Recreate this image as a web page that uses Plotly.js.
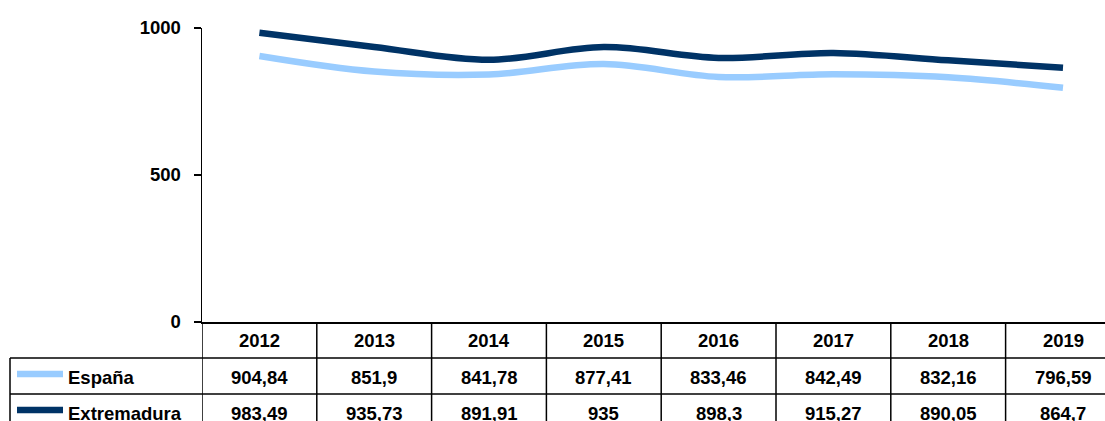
<!DOCTYPE html>
<html><head><meta charset="utf-8">
<script src="https://cdn.plot.ly/plotly-3.0.1.min.js"></script>
<style>html,body{margin:0;padding:0;background:#fff;overflow:hidden}#c{width:1105px;height:421px}</style>
</head><body><div id="c"></div>
<script>
const years = ['2012','2013','2014','2015','2016','2017','2018','2019'];
const espana = [904.84, 851.9, 841.78, 877.41, 833.46, 842.49, 832.16, 796.59];
const extremadura = [983.49, 935.73, 891.91, 935, 898.3, 915.27, 890.05, 864.7];
const seriesNames = ['España', 'Extremadura'];
const seriesColors = ['#99CCFF', '#003366'];
const yTicks = [0, 500, 1000];

const W = 1105, H = 421, L = 202, T = 28, B = 99;
const plotW = W - L, plotH = H - T - B;
const colW = 114.8;
const xIdx = years.map((_, i) => i);
const pY = px => (H - B - px) / plotH;       // pixel row -> paper y
const pX = px => (px - L) / plotW;           // pixel col -> paper x
const fmt = v => String(v).replace('.', ',');
const font = {family: 'Liberation Sans, Arial, sans-serif', size: 18.5, color: '#000', weight: 'bold'};

const traces = [espana, extremadura].map((vals, k) => ({
  x: xIdx, y: vals, type: 'scatter', mode: 'lines', name: seriesNames[k],
  line: {color: seriesColors[k], width: 6.5, shape: 'spline', smoothing: 1},
  hoverinfo: 'skip', cliponaxis: false
}));

const rowTop = [322, 358, 394, 430];
const shapes = [];
const lineStyle = {color: '#000', width: 1.5};
// column boundaries
for (let i = -1; i < years.length; i++) {
  shapes.push({type: 'line', xref: 'x', yref: 'paper', x0: i + 0.5, x1: i + 0.5,
    y0: pY(rowTop[0]), y1: pY(rowTop[3]), line: lineStyle});
}
// row lines
[358, 394].forEach(r => shapes.push({type: 'line', xref: 'paper', yref: 'paper',
  x0: pX(10), x1: 1.05, y0: pY(r), y1: pY(r), line: lineStyle}));
shapes.push({type: 'line', xref: 'paper', yref: 'paper', x0: pX(10), x1: pX(10),
  y0: pY(358), y1: pY(430), line: lineStyle});
// legend keys
seriesColors.forEach((c, k) => {
  const yc = pY((rowTop[k + 1] + rowTop[k + 2]) / 2 - 2);
  shapes.push({type: 'line', xref: 'paper', yref: 'paper', x0: pX(17), x1: pX(63),
    y0: yc, y1: yc, line: {color: c, width: 6.5}});
});

const annotations = [];
years.forEach((yr, i) => annotations.push({xref: 'x', yref: 'paper', x: i,
  y: pY(340), text: yr, showarrow: false, font, xanchor: 'center', yanchor: 'middle'}));
[espana, extremadura].forEach((vals, k) => {
  const yc = pY((rowTop[k + 1] + rowTop[k + 2]) / 2 + 1);
  vals.forEach((v, i) => annotations.push({xref: 'x', yref: 'paper', x: i, y: yc,
    text: fmt(v), showarrow: false, font, xanchor: 'center', yanchor: 'middle'}));
  annotations.push({xref: 'paper', yref: 'paper', x: pX(66), y: yc, text: seriesNames[k],
    showarrow: false, font, xanchor: 'left', yanchor: 'middle'});
});

const layout = {
  width: W, height: H, margin: {l: L, r: 0, t: T, b: B, pad: 0},
  paper_bgcolor: '#fff', plot_bgcolor: '#fff', showlegend: false,
  xaxis: {range: [-0.5, -0.5 + plotW / colW], showgrid: false, zeroline: false,
    showticklabels: false, ticks: '', showline: true, linecolor: '#000', linewidth: 1.5,
    fixedrange: true},
  yaxis: {range: [0, 1000], tickvals: yTicks, ticktext: yTicks.map(String),
    showgrid: false, zeroline: false, showline: true, linecolor: '#000', linewidth: 1.5,
    ticks: 'outside', ticklen: 7, tickcolor: '#000', tickwidth: 1.5, tickfont: font,
    ticklabelstandoff: 9, fixedrange: true},
  shapes, annotations
};
Plotly.newPlot('c', traces, layout, {staticPlot: true});
</script></body></html>
